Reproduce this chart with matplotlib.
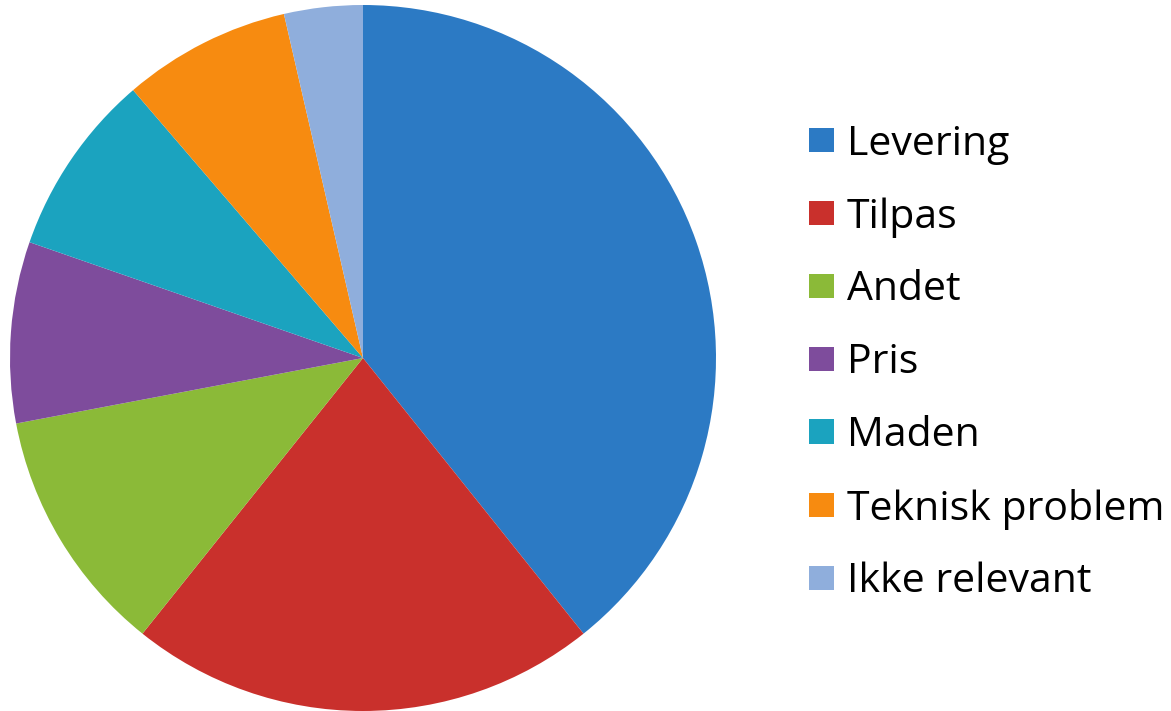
import matplotlib
matplotlib.use('Agg')
import matplotlib.pyplot as plt
from matplotlib.patches import Patch

# data (share of the pie, %)
labels = ['Levering', 'Tilpas', 'Andet', 'Pris', 'Maden', 'Teknisk problem', 'Ikke relevant']
values = [39.3, 21.5, 11.3, 8.3, 8.4, 7.7, 3.6]
colors = ['#2C7AC4', '#C9302C', '#8BBA38', '#7E4C9C', '#1BA3BF', '#F78B10', '#8FAEDC']

plt.rcParams['font.family'] = ['Open Sans', 'DejaVu Sans']

fig = plt.figure(figsize=(11.71, 7.11), dpi=100)
ax = fig.add_axes([10/1171, 0, 706/1171, 706/711])
ax.pie(values, colors=colors, startangle=90, counterclock=False, radius=1)
ax.set_xlim(-1, 1)
ax.set_ylim(-1, 1)
ax.set_aspect('equal')
ax.axis('off')

handles = [Patch(facecolor=c, edgecolor='none') for c in colors]
fig.legend(handles, labels, loc='center left', bbox_to_anchor=(809/1171, 0.489),
           frameon=False, fontsize=29.5, handlelength=0.61, handleheight=0.54,
           handletextpad=0.32, labelspacing=0.79, borderaxespad=0, borderpad=0)

fig.savefig('out.png', dpi=100)
